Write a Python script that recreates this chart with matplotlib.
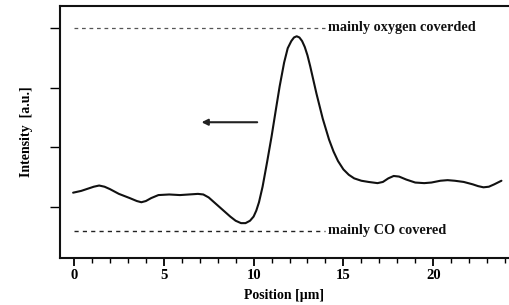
import matplotlib
matplotlib.use("Agg")
import matplotlib.pyplot as plt
from matplotlib.ticker import MultipleLocator

position = [-0.05, 0.4, 0.8, 1.1, 1.4, 1.7, 2.0, 2.5, 3.1, 3.5, 3.75, 4.0, 4.3, 4.7,
            5.3, 5.9, 6.4, 6.9, 7.2, 7.5, 7.8, 8.1, 8.4, 8.7, 9.0, 9.3, 9.55, 9.8,
            10.0, 10.15, 10.3, 10.5, 10.75, 11.0, 11.25, 11.45, 11.7, 11.9, 12.1,
            12.25, 12.4, 12.55, 12.7, 12.85, 13.0, 13.15, 13.5, 13.85, 14.2, 14.45,
            14.7, 15.0, 15.3, 15.6, 16.0, 16.4, 16.9, 17.2, 17.5, 17.8, 18.1, 18.5,
            19.0, 19.5, 19.9, 20.4, 20.8, 21.2, 21.7, 22.2, 22.5, 22.8, 23.1, 23.4,
            23.8]
intensity = [0.24, 0.27, 0.31, 0.34, 0.36, 0.34, 0.30, 0.22, 0.15, 0.10, 0.08, 0.10,
             0.15, 0.20, 0.21, 0.20, 0.21, 0.22, 0.21, 0.16, 0.08, 0.00, -0.08, -0.16,
             -0.23, -0.27, -0.27, -0.23, -0.16, -0.06, 0.08, 0.34, 0.75, 1.18, 1.65,
             2.02, 2.42, 2.66, 2.78, 2.84, 2.86, 2.84, 2.78, 2.68, 2.54, 2.36, 1.90,
             1.48, 1.13, 0.93, 0.77, 0.63, 0.54, 0.48, 0.44, 0.42, 0.40, 0.42, 0.48,
             0.52, 0.51, 0.46, 0.41, 0.40, 0.41, 0.44, 0.45, 0.44, 0.42, 0.38, 0.35,
             0.33, 0.34, 0.38, 0.44]

oxygen_level = 3.0
co_level = -0.4
ref_x = [0.0, 14.0]
label_oxygen = "mainly oxygen coverded"
label_co = "mainly CO covered"
xticks = [0, 5, 10, 15, 20]
yticks = [0, 1, 2, 3]
arrow_tail = (10.2, 1.42)
arrow_head = (7.1, 1.42)

serif = ["Liberation Serif", "DejaVu Serif"]

fig = plt.figure(figsize=(5.10, 3.05), dpi=100)
ax = fig.add_axes([60/510, 47/305, 450/510 - 0.002, 252/305])

ax.plot(position, intensity, color="#111111", lw=1.5, solid_joinstyle="round",
        solid_capstyle="round")
ax.plot(ref_x, [oxygen_level]*2, color="#555555", lw=0.9, dashes=(3, 3))
ax.plot(ref_x, [co_level]*2, color="#222222", lw=1.0, dashes=(3, 3))
ax.text(14.15, oxygen_level, label_oxygen, va="center", ha="left",
        family=serif, fontsize=10.3, fontweight="bold", color="#111111")
ax.text(14.15, co_level, label_co, va="center", ha="left",
        family=serif, fontsize=10.3, fontweight="bold", color="#111111")
ax.annotate("", xy=arrow_head, xytext=arrow_tail,
            arrowprops=dict(arrowstyle="-|>", color="#222222", lw=1.5,
                            mutation_scale=9, shrinkA=0, shrinkB=0))

ax.set_xlim(-0.78, 24.22)
ax.set_ylim(-0.854, 3.367)
ax.set_xticks(xticks)
ax.set_xticklabels([str(t) for t in xticks], family=serif, fontsize=10.5, fontweight="bold")
ax.xaxis.set_minor_locator(MultipleLocator(1))
ax.set_yticks(yticks)
ax.set_yticklabels([])
ax.tick_params(axis="x", which="major", direction="out", length=6, width=1.3, pad=2)
ax.tick_params(axis="x", which="minor", direction="out", length=3.5, width=1.0)
ax.tick_params(axis="y", which="major", direction="out", length=7, width=1.0)
ax.spines["right"].set_visible(False)
for s in ["left", "top", "bottom"]:
    ax.spines[s].set_linewidth(1.5)
    ax.spines[s].set_color("#111111")

ax.set_xlabel("Position [µm]", family=serif, fontsize=10, fontweight="bold", labelpad=5)
ax.set_ylabel("Intensity  [a.u.]", family=serif, fontsize=10, fontweight="bold", labelpad=9)

fig.savefig("out.png", dpi=100)
